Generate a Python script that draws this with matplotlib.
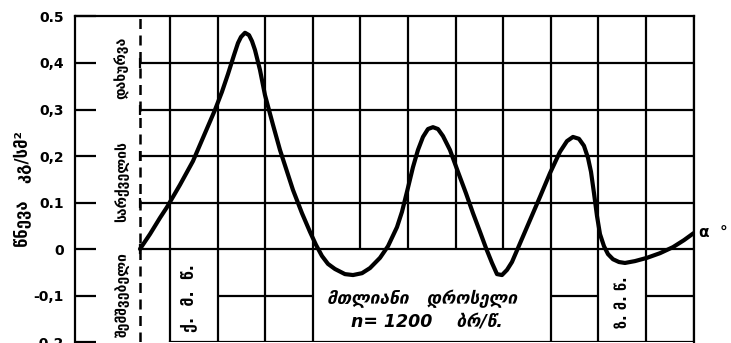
import matplotlib

matplotlib.use("Agg")
import matplotlib.pyplot as plt

# crank angle in grid columns (0 = first solid grid line), pressure in kg/cm2
crank_pos = [
    -0.630, -0.420, -0.210, -0.063, 0.210, 0.483, 0.735, 0.945, 1.092, 1.218,
    1.345, 1.429, 1.492, 1.576, 1.660, 1.723, 1.786, 1.891, 1.996, 2.164,
    2.311, 2.584, 2.773, 2.941, 3.067, 3.193, 3.319, 3.466, 3.676, 3.845,
    4.034, 4.202, 4.412, 4.580, 4.769, 4.874, 4.979, 5.105, 5.210, 5.315,
    5.420, 5.525, 5.630, 5.735, 5.882, 6.050, 6.218, 6.366, 6.513, 6.639,
    6.765, 6.870, 6.975, 7.080, 7.185, 7.311, 7.500, 7.647, 7.773, 7.983,
    8.193, 8.340, 8.466, 8.592, 8.697, 8.782, 8.845, 8.908, 8.971, 9.034,
    9.118, 9.202, 9.307, 9.433, 9.559, 9.769, 10.021, 10.294, 10.567, 10.798,
    11.000,
]
pressure = [
    0.000, 0.032, 0.067, 0.090, 0.138, 0.189, 0.249, 0.299, 0.338, 0.376,
    0.417, 0.443, 0.456, 0.465, 0.460, 0.447, 0.428, 0.385, 0.331, 0.267,
    0.213, 0.127, 0.077, 0.037, 0.009, -0.015, -0.032, -0.043, -0.054, -0.056,
    -0.052, -0.041, -0.019, 0.006, 0.047, 0.080, 0.123, 0.176, 0.213, 0.241,
    0.258, 0.262, 0.258, 0.243, 0.213, 0.166, 0.120, 0.077, 0.037, 0.002,
    -0.030, -0.054, -0.056, -0.045, -0.028, 0.002, 0.047, 0.082, 0.112, 0.163,
    0.209, 0.232, 0.241, 0.237, 0.222, 0.196, 0.166, 0.120, 0.071, 0.032,
    0.006, -0.011, -0.022, -0.028, -0.030, -0.026, -0.019, -0.009, 0.004, 0.019,
    0.034,
]

y_ticks = [-0.2, -0.1, 0.0, 0.1, 0.2, 0.3, 0.4, 0.5]
y_tick_labels = ["-0.2", "-0,1", "0", "0.1", "0,2", "0,3", "0,4", "0.5"]

valve_x = -0.63
grid_cols = list(range(0, 12))
full_cols = [0, 1, 2, 3, 8, 9, 10, 11]
lower_rows = [(1, 3), (8, 9), (10, 11)]

y_label = "წნევა   კგ/სმ²"
valve_words = ["შემშვებელი", "სარქველის", "დახურვა"]
bdc_label = "ქ.  მ.  წ."
tdc_label = "ზ. მ. წ."
mode_line1 = "მთლიანი   დროსელი"
mode_line2 = "n= 1200    ბრ/წ."
x_label = "α  °"

LW = 1.6
fig = plt.figure(figsize=(7.31, 3.43), dpi=100)
ax = fig.add_axes([0.1023, 0.0029, 0.8465, 0.9490])
ax.set_xlim(-2, 11)
ax.set_ylim(-0.2, 0.5)

# grid: upper part fully ruled from the valve line on
for yv in [0.0, 0.1, 0.2, 0.3, 0.4]:
    ax.plot([valve_x, 11], [yv, yv], color="black", lw=LW, solid_capstyle="butt")
    ax.plot([valve_x], [yv], marker="|", markersize=7, mew=LW, color="black")
for xv in grid_cols:
    y0 = -0.2 if xv in full_cols else 0.0
    ax.plot([xv, xv], [y0, 0.5], color="black", lw=LW, solid_capstyle="butt")
for x0, x1 in lower_rows:
    ax.plot([x0, x1], [-0.1, -0.1], color="black", lw=LW, solid_capstyle="butt")
ax.plot([0, 11], [-0.2, -0.2], color="black", lw=LW)

ax.plot([valve_x, valve_x], [-0.2, 0.5], color="black", lw=1.8, linestyle=(0, (4, 2.6)))

ax.plot(crank_pos, pressure, color="black", lw=3.0, solid_capstyle="round", solid_joinstyle="round")

for side in ["left", "top", "right"]:
    ax.spines[side].set_linewidth(LW)
ax.spines["bottom"].set_visible(False)
ax.set_xticks([])
ax.set_yticks(y_ticks)
ax.set_yticklabels(y_tick_labels, fontsize=10, fontweight="bold")
ax.tick_params(axis="y", direction="in", length=15, width=LW, pad=8)

fig.text(0.032, 0.45, y_label, rotation=90, ha="center", va="center",
         fontsize=12, fontweight="bold", family=["DejaVu Sans"])

for word, yc in zip(valve_words, [-0.099, 0.144, 0.389]):
    ax.text(-1.01, yc, word, rotation=90, ha="center", va="center",
            fontsize=10, fontweight="bold")

ax.text(0.38, -0.105, bdc_label, rotation=90, ha="center", va="center",
        fontsize=11.5, fontweight="bold")
ax.text(9.5, -0.114, tdc_label, rotation=90, ha="center", va="center",
        fontsize=10.5, fontweight="bold")
ax.text(5.3, -0.108, mode_line1, ha="center", va="center",
        fontsize=12.5, fontweight="bold", style="italic")
ax.text(5.4, -0.158, mode_line2, ha="center", va="center",
        fontsize=12.5, fontweight="bold", style="italic")
ax.text(11.12, 0.035, x_label, ha="left", va="center",
        fontsize=11, fontweight="bold", clip_on=False)

fig.savefig("out.png", dpi=100, facecolor="white")
